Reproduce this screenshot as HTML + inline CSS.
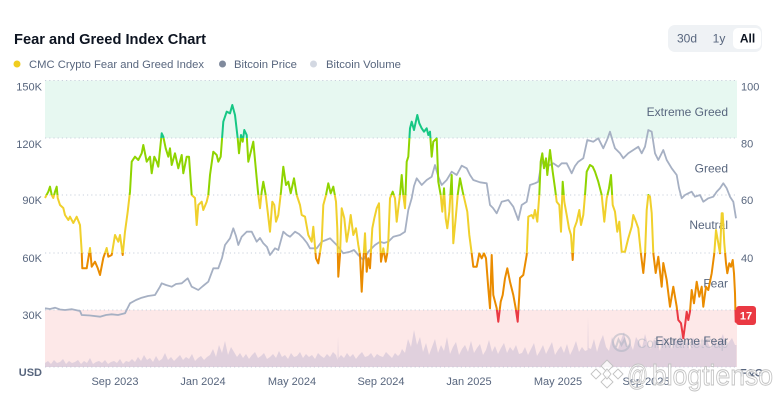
<!DOCTYPE html>
<html><head><meta charset="utf-8"><style>
html,body{margin:0;padding:0;background:#fff;}
svg{display:block;font-family:"Liberation Sans",Arial,sans-serif;}
</style></head><body>
<svg width="780" height="401" viewBox="0 0 780 401" xmlns="http://www.w3.org/2000/svg" xmlns:xlink="http://www.w3.org/1999/xlink">
<defs>
<clipPath id="cT"><rect x="0" y="0" width="780" height="138"/></clipPath>
<clipPath id="cG"><rect x="0" y="138" width="780" height="57"/></clipPath>
<clipPath id="cY"><rect x="0" y="195" width="780" height="58"/></clipPath>
<clipPath id="cO"><rect x="0" y="253" width="780" height="57"/></clipPath>
<clipPath id="cR"><rect x="0" y="310" width="780" height="91"/></clipPath>
<polyline id="fg" points="45,198 48.3,191.7 50,186.7 51.7,195 53.3,198 55,191.7 56.7,186.7 57.7,198 60,205 63.3,208 65,215 68.3,220 70,216.7 73.3,223 76.7,216.7 80,225 81.7,251.7 82.3,268.3 86.7,268.3 90,248 91.7,266.7 95,261.7 97.7,268 100,275 103.3,258 106.7,248 108.3,256.7 111.7,255 115,235 118.3,241.7 120,235 122.7,255 125,231.7 127.7,211.7 130,191.7 131.7,161.7 135,156.7 138.3,160 141.7,153.3 143.3,145 146.7,161.7 150,156.7 151.7,173.3 154.3,156.7 156.7,161.7 158.3,166.7 161.7,133.3 163.3,136.7 165.7,148.3 168.3,156.7 170,148.3 171.7,165 175,153.3 178.3,168.3 181.7,155 183.3,173.3 186.7,156.7 189,156.7 191.7,195 195,198 196.7,225 198.3,205 201.7,201.7 203.3,210 206.7,201.7 208.3,195 210,175 213.3,151.7 216.7,155 218.3,161.7 220.7,156.7 223.3,121.7 226.7,111.7 230,113.3 232.3,105 235,115 237.7,138.3 239,153.3 241,135 242.7,141.7 244.3,130 246.7,135 248.3,161.7 251.7,148.3 253.3,141.7 256.7,178.3 258.3,195 260,208.3 261.7,191.7 263.3,181.7 265.7,195 267.7,211.7 270,231.7 272.3,201.7 274.3,205 276,221.7 278.3,215 281,191.7 283.3,166.7 286,185 288.3,181.7 290.7,193.3 294,178.3 296.7,195 300,205 301.7,215 305,216.7 308.3,235 311.7,241.7 313.3,226.7 316,258.3 318.3,263.3 321.7,241.7 323.3,205 326,195 328.3,183.3 330.7,193.3 333.3,186.7 336,201.7 337.3,228.3 338.3,276.7 340,255 341.7,208.3 344.3,218.3 346.7,241.7 349,228.3 350.7,215 353.3,235 356,228.3 358.3,245 360,255 361.7,291.7 363.3,261.7 365,233.3 366.7,271.7 368.3,258.3 370,268.3 372.3,228.3 374.3,218.3 376.7,208.3 379,203.3 380,238.3 381,261.7 383.3,248.3 385.7,261.7 387.3,253.3 388.3,241.7 390,198.3 392.7,191.7 395,198.3 396.7,221.7 398.3,208.3 400,195 401.7,175 403.3,195 405,208.3 406.7,161.7 408.3,156.7 410,128.3 411.7,121.7 414,130 417.3,115 419.3,123.3 421.7,128.3 424,131.7 426.7,128.3 428.3,135 430,131.7 431.7,156.7 433.3,141.7 436.7,138.3 438.3,181.7 440.7,195 442.3,211.7 444,188.3 445.7,218.3 447.3,228.3 449.3,211.7 451.7,175 453.3,243.3 455.7,218.3 457.7,195 460,178.3 462.7,191.7 465,201.7 467.3,211.7 469.3,235 471.7,253.3 473.3,266.7 476.7,266.7 479.3,253.3 481.7,258.3 484,253.3 486,258.3 488.3,288.3 490,308.3 491.7,255 493.3,295 496.7,308.3 498.3,321.7 500.7,301.7 502.7,295 505,278.3 507.3,268.3 510,281.7 513.3,295 515.7,308.3 517.7,321.7 519.3,295 520,278 523.3,275 526.7,255 528.3,216.7 531.7,215 533.3,218.3 535,210 537.3,221.7 539.3,195 540.7,161.7 542.3,153.3 544,168.3 546,158.3 547.3,175 550,150 552.7,171.7 555,188.3 556.7,201.7 559.3,205 561,231.7 562.7,181.7 564.3,201.7 566.7,215 569,228.3 571,235 572.7,260 574.3,228.3 576.7,221.7 579.3,210 581,225 583.3,215 585,195 586.7,171.7 590,165 592.7,166.7 595,171.7 598.3,181.7 601.7,195 604.3,221.7 606.7,198.3 609,188.3 611,175 612.7,205 615,211.7 617.3,231.7 619.3,221.7 621.7,251.7 625,251.7 628.3,238.3 631.7,226.7 633.3,215 636,221.7 638.3,228.3 640.7,251.7 643.3,273 645,255 646.7,210 648.3,195 650,196.7 651.7,213 653.3,253 655.7,273 658.3,256.7 661.7,286.7 663.3,263 666.7,280 670,306.7 673.3,286.7 676.7,306.7 678.3,320 681,323.3 683.3,338.3 685.3,323.3 686.7,311.7 688.3,320 690,311.7 691.7,290 694,303.3 696.7,281.7 699.3,296.7 701.7,286.7 703.3,306.7 706,286.7 708.3,290 711.7,273.3 714.3,253.3 716,230 718.3,243.3 720,253.3 721.7,213.3 722.7,213.3 724.3,243.3 726,263.3 727.3,273.3 729.3,263.3 731,266.7 732.7,260 734,273.3 735,293.3 735.7,321.7 736.5,321.7"/>
</defs>
<rect width="780" height="401" fill="#fff"/>
<!-- title -->
<text x="14" y="44" font-size="14.5" font-weight="bold" fill="#0d1421" textLength="192" lengthAdjust="spacingAndGlyphs">Fear and Greed Index Chart</text>
<!-- legend -->
<circle cx="17" cy="64" r="3.5" fill="#f0cd1f"/>
<text x="29" y="68" font-size="11.3" fill="#58667e" textLength="175" lengthAdjust="spacingAndGlyphs">CMC Crypto Fear and Greed Index</text>
<circle cx="222.5" cy="64" r="3.5" fill="#808a9d"/>
<text x="234" y="68" font-size="11.3" fill="#58667e" textLength="63" lengthAdjust="spacingAndGlyphs">Bitcoin Price</text>
<circle cx="313.5" cy="64" r="3.5" fill="#d3d8e2"/>
<text x="326" y="68" font-size="11.3" fill="#58667e" textLength="75" lengthAdjust="spacingAndGlyphs">Bitcoin Volume</text>
<!-- buttons -->
<rect x="668" y="25" width="94" height="27" rx="7" fill="#eff2f5"/>
<rect x="733" y="28" width="28" height="21" rx="5" fill="#fff"/>
<text x="687" y="42.5" font-size="12" fill="#58667e" text-anchor="middle">30d</text>
<text x="719" y="42.5" font-size="12" fill="#58667e" text-anchor="middle">1y</text>
<text x="747.5" y="42.5" font-size="12" font-weight="bold" fill="#0d1421" text-anchor="middle">All</text>
<!-- zones -->
<rect x="45" y="80.5" width="692" height="57.5" fill="#e7f8f1"/>
<rect x="45" y="310" width="692" height="57" fill="#fde8e8"/>
<!-- grid -->
<g stroke="#c9d0dc" stroke-width="1" stroke-dasharray="1.2,3">
<line x1="45" y1="80.5" x2="737" y2="80.5"/>
<line x1="45" y1="138" x2="737" y2="138"/>
<line x1="45" y1="195" x2="737" y2="195"/>
<line x1="45" y1="253" x2="737" y2="253"/>
<line x1="45" y1="310" x2="737" y2="310"/>
<line x1="45" y1="367" x2="737" y2="367"/>
</g>
<!-- volume -->
<polygon fill="#c8bcd3" fill-opacity="0.55" points="45,367 45,363 48,361 51,364 54,360 57,363 60,362 63,359 66,364 69,361 72,363 75,362 78,360 81,364 84,361 87,363 90,358 93,364 96,362 99,361 102,363 105,360 108,364 111,362 114,361 117,363 120,359 123,364 126,361 129,362 132,359 135,362 138,357 141,361 144,355 147,360 150,358 153,362 156,356 159,361 162,359 165,353 168,360 171,357 174,361 177,358 180,355 183,360 186,357 189,359 192,354 195,361 198,358 201,356 204,360 207,357 210,355 213,349 216,357 219,345 222,353 225,341 228,355 231,347 234,352 237,357 240,353 243,358 246,354 249,359 252,355 255,352 258,358 261,356 264,353 267,359 270,357 273,354 276,358 279,351 282,357 285,355 288,359 291,353 294,357 297,356 300,352 303,358 306,354 309,357 312,355 315,359 318,353 321,356 324,358 327,354 330,357 333,352 336,355 337.5,360 338,337 338.6,358 341,355 344,358 347,353 350,357 353,354 356,359 359,355 362,352 365,357 368,356 371,353 374,358 377,354 380,356 383,357 386,352 389,355 392,358 395,353 398,356 400,354 402,349 405,353 408,339 411,347 414,330 417,345 420,337 423,352 426,343 429,355 432,347 435,339 438,353 441,345 444,351 447,337 450,354 453,347 456,342 459,355 462,349 465,345 468,352 471,341 474,353 477,348 480,344 483,355 486,350 489,340 492,352 495,346 498,354 501,348 504,343 507,353 510,347 513,351 516,345 519,354 522,353 525,347 528,355 531,349 534,343 537,356 540,351 543,345 546,354 549,348 552,342 555,355 558,350 561,346 564,353 567,344 570,355 573,349 576,341 579,352 582,347 585,351 587.5,350 588,317 588.6,348 591,349 594,339 597,352 600,342 603,335 606,347 609,351 612,337 615,345 618,349 621,340 624,332 627,347 630,343 633,350 636,337 639,342 642,348 645,334 648,345 651,349 654,339 657,343 660,351 663,336 666,346 669,341 672,349 675,338 678,344 681,333 684,347 687,342 690,350 693,337 696,345 699,340 702,348 705,335 708,343 711,349 714,339 717,346 720,341 723,334 726,347 729,342 732,338 735,345 736.5,345 736.5,367"/>
<!-- CMC watermark -->
<g opacity="0.5">
<circle cx="621.5" cy="342.5" r="8.5" fill="none" stroke="#aab2c0" stroke-width="2"/>
<path d="M616 347 L618.5 339.5 L621.5 345 L624.5 339.5 L627 347" fill="none" stroke="#aab2c0" stroke-width="2"/>
<text x="637" y="348" font-size="14" fill="#aab2c0" textLength="91" lengthAdjust="spacingAndGlyphs">CoinMarketCap</text>
</g>
<!-- zone labels -->
<g font-size="12" fill="#58667e" text-anchor="end">
<text x="728" y="116">Extreme Greed</text>
<text x="728" y="172.5">Greed</text>
<text x="728" y="229">Neutral</text>
<text x="728" y="287.5">Fear</text>
<text x="728" y="345">Extreme Fear</text>
</g>
<!-- price line -->
<polyline fill="none" stroke="#a6b0c3" stroke-width="1.8" stroke-linejoin="round" points="45,308.3 50,309 55,307.7 60,309.5 65,310 72,309.2 80,311 81.7,315 90,315.5 100,316.7 106,315 111.7,314.3 118,315 125,313.3 130,303.3 136,300 141.7,297.7 148,296 155,295 160,286.7 161.7,283.3 166,285 171.7,286.7 176,284 181.7,283.3 187.7,278.3 191.7,286.7 198.3,290 203,286 208.3,281.7 213.3,268.3 218.3,268.3 222,258 225,245 230,238.3 233.3,228.3 236,236 238.3,245 241.7,236.7 246.7,231.7 251.7,231.7 256.7,241.7 260,238 263.3,243.3 267,247 270,255 275,248.3 278.3,250 283.3,231.7 287,235 290,236.7 295,231.7 299,234 303.3,238.3 307,243 310,248.3 316.7,248.3 321.7,241.7 326,240 330,238.3 336.7,245 343.3,253.3 350,251.7 354,250 358.3,255 363.3,260 368.3,251.7 375,245 380,241.7 384,243 388.3,241.7 393.3,236.7 400,235 405,231.7 408.3,210 411.7,198.3 414,186 416.7,178.3 421.7,185 426.7,180 431.7,176.7 435,165 438.3,176.7 441.7,185 446.7,180 451.7,171.7 456.7,175 461.7,165.7 466.7,168.3 470,175 473.3,180 480,182.3 486.7,183.3 490,205 493,208 496.7,213.3 501.7,201.7 508.3,200 513.3,206.7 518.3,220 521.7,205 526.7,201.7 530,185 535,183.3 538.3,181.7 541.7,161.7 546.7,166.7 553.3,163.3 558.3,166.7 561.7,163.3 566.7,163.3 571.7,173.3 575,166 578.3,161.7 583.3,158.3 587.3,140 593.3,141.7 598.3,138.3 603.3,148.3 607,140 610,131.7 613,142 615,148.3 620,153.3 623.3,158.3 628.3,153.3 633.3,150 638.3,146.7 641.7,153.3 645,146.7 648.3,130 651.7,131.7 655,153.3 658.3,160 663.3,150 666.7,160 671.7,168.3 676.7,175 679,188 681.7,198.3 685,195 688.3,193.3 691.7,191.7 695,196.7 700,195 703.3,201.7 708.3,198.3 713.3,196.7 716.7,191.7 720,188.3 723.3,183.3 726.7,188.3 730,196.7 733.3,201.7 736,218.3"/>
<!-- F&G line, colored by band -->
<g fill="none" stroke-width="2" stroke-linejoin="round">
<g clip-path="url(#cT)" stroke="#16c784"><use href="#fg" xlink:href="#fg"/></g>
<g clip-path="url(#cG)" stroke="#8fd400"><use href="#fg" xlink:href="#fg"/></g>
<g clip-path="url(#cY)" stroke="#f0d02c"><use href="#fg" xlink:href="#fg"/></g>
<g clip-path="url(#cO)" stroke="#ea8c00"><use href="#fg" xlink:href="#fg"/></g>
<g clip-path="url(#cR)" stroke="#ea3943"><use href="#fg" xlink:href="#fg"/></g>
</g>
<!-- left axis -->
<g font-size="11" fill="#58667e" text-anchor="end">
<text x="42" y="90.5">150K</text>
<text x="42" y="148">120K</text>
<text x="42" y="204">90K</text>
<text x="42" y="262">60K</text>
<text x="42" y="319">30K</text>
<text x="42" y="376" font-weight="bold">USD</text>
</g>
<!-- right axis -->
<g font-size="11" fill="#58667e">
<text x="741" y="90.5">100</text>
<text x="741" y="147.5">80</text>
<text x="741" y="204">60</text>
<text x="741" y="262">40</text>
<text x="740" y="376.5" font-weight="bold">F&amp;G</text>
</g>
<!-- badge -->
<rect x="736" y="306" width="20" height="19" rx="3" fill="#ea3943"/>
<text x="746" y="319.5" font-size="11" font-weight="bold" fill="#fff" text-anchor="middle">17</text>
<!-- x axis -->
<g font-size="11" fill="#58667e" text-anchor="middle">
<text x="115" y="385">Sep 2023</text>
<text x="203" y="385">Jan 2024</text>
<text x="292" y="385">May 2024</text>
<text x="381" y="385">Sep 2024</text>
<text x="469" y="385">Jan 2025</text>
<text x="558" y="385">May 2025</text>
<text x="646" y="385">Sep 2025</text>
</g>
<!-- blogtienso watermark -->
<g fill="#fff" fill-opacity="0.8" stroke="#c2c2c2" stroke-width="0.9">
<path d="M607 360 L613 366 L607 372 L601 366 Z"/>
<path d="M596 369 L601 374 L596 379 L591 374 Z"/>
<path d="M618 369 L623 374 L618 379 L613 374 Z"/>
<path d="M607 376 L613 382 L607 388 L601 382 Z"/>
<path d="M607 369 L611 374 L607 379 L603 374 Z"/>
<text x="627" y="385" font-size="29" textLength="21" lengthAdjust="spacingAndGlyphs">@</text>
<text x="652" y="385" font-size="29" textLength="121" lengthAdjust="spacingAndGlyphs">blogtienso</text>
</g>
</svg>
</body></html>
